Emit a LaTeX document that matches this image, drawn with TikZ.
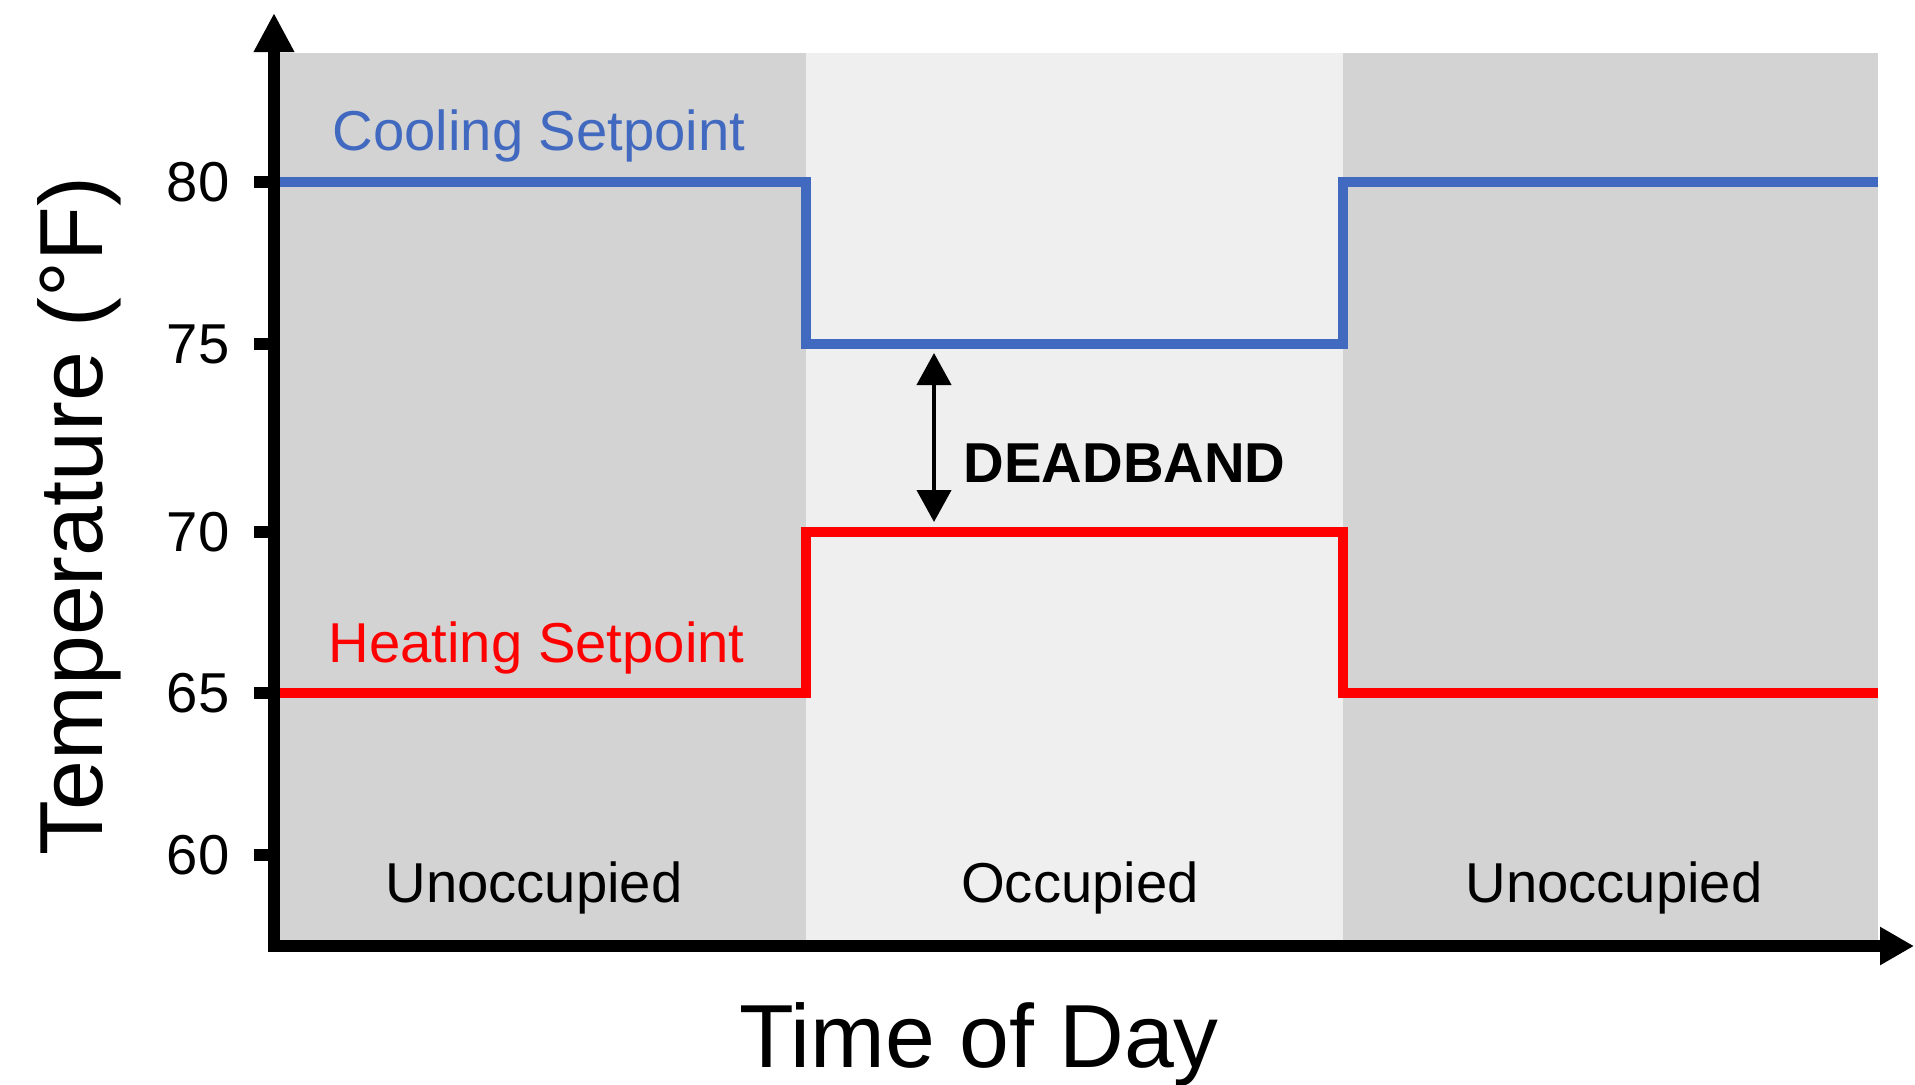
\documentclass[tikz,border=0pt]{standalone}
\usepackage{fontspec}
\setmainfont{Liberation Sans}
\usepackage{tikz}
\usetikzlibrary{arrows.meta}
\definecolor{coolblue}{HTML}{4169C0}
\definecolor{heatred}{HTML}{FF0000}
\definecolor{offzone}{HTML}{D3D3D3}
\definecolor{onzone}{HTML}{EFEFEF}
\tikzset{
  axisline/.style={draw=black, line width=3.3pt},
  coolline/.style={draw=coolblue, line width=3.1pt},
  heatline/.style={draw=heatred, line width=3.1pt},
  ticklab/.style={anchor=east, inner sep=0pt, font=\fontsize{16}{19}\selectfont},
  zonelab/.style={anchor=base, inner sep=0pt, font=\fontsize{16}{19}\selectfont},
  setlab/.style={anchor=base west, inner sep=0pt, font=\fontsize{16}{19}\selectfont},
  axislab/.style={anchor=base, inner sep=0pt, font=\fontsize{25.5}{30}\selectfont},
}

\begin{document}
\begin{tikzpicture}
  \useasboundingbox (0,0) rectangle (19.15,10.84);

  % occupancy zones
  \fill[offzone] (2.74,1.38) rectangle (8.06,10.31);
  \fill[onzone]  (8.06,1.38) rectangle (13.43,10.31);
  \fill[offzone] (13.43,1.38) rectangle (18.78,10.31);

  \node[zonelab] (unocc1) at (5.34,1.82) {Unoccupied};
  \node[zonelab] (occ)    at (10.80,1.82) {Occupied};
  \node[zonelab] (unocc2) at (16.14,1.82) {Unoccupied};

  % setpoint schedules
  \draw[coolline] (2.74,9.02) -- (8.06,9.02) -- (8.06,7.40) -- (13.43,7.40)
    -- (13.43,9.02) -- (18.78,9.02);
  \draw[heatline] (2.74,3.91) -- (8.06,3.91) -- (8.06,5.52) -- (13.43,5.52)
    -- (13.43,3.91) -- (18.78,3.91);

  \node[setlab, text=coolblue] (cool) at (3.32,9.34) {Cooling Setpoint};
  \node[setlab, text=heatred]  (heat) at (3.28,4.22) {Heating Setpoint};

  % gap between the two setpoints
  \coordinate (dbtop) at (9.34,7.31);
  \coordinate (dbbot) at (9.34,5.62);
  \draw[line width=1.2pt, {Triangle[length=0.32cm,width=0.34cm]}-{Triangle[length=0.32cm,width=0.34cm]}]
    (dbtop) -- (dbbot);
  \node[setlab] (db) at (9.63,6.02) {\bfseries DEADBAND};

  % axes and ticks
  \foreach \t/\y in {80/9.02,75/7.40,70/5.52,65/3.91,60/2.29}{
    \draw[axisline] (2.54,\y) -- (2.74,\y);
    \node[ticklab] (tick\t) at (2.30,\y) {\t};
  }
  \draw[axisline, {Triangle[length=0.39cm,width=0.38cm]}-{Triangle[length=0.34cm,width=0.36cm]}]
    (2.74,10.71) -- (2.74,1.38) -- (19.14,1.38);

  \node[axislab] (xlab) at (9.79,0.17) {Time of Day};
  \node[axislab, rotate=90] (ylab) at (1.02,5.68) {Temperature (°F)};
\end{tikzpicture}
\end{document}
